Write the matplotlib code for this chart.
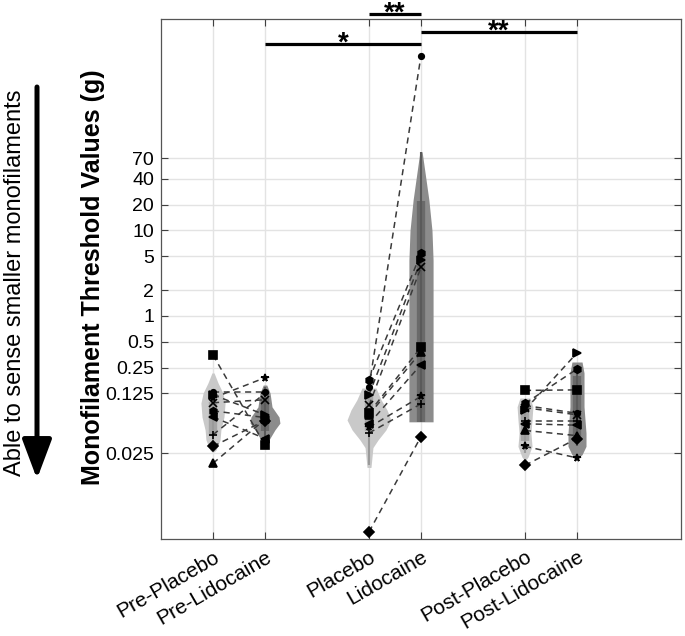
import numpy as np
import matplotlib
matplotlib.use('Agg')
import matplotlib.pyplot as plt

plt.rcParams['font.family'] = ['Liberation Sans', 'DejaVu Sans']

# groups and their tick labels
groups = ['Pre-Placebo', 'Pre-Lidocaine', 'Placebo', 'Lidocaine', 'Post-Placebo', 'Post-Lidocaine']
xpos = [1, 2, 4, 5, 7, 8]

# one marker per subject
markers = ['o', 'h', '>', 'x', 's', '^', '<', '*', '+', 'D']

# monofilament thresholds (g) per subject, same order as markers
pre_placebo = [0.13, 0.078, 0.12, 0.097, 0.35, 0.019, 0.066, 0.11, 0.041, 0.030]
pre_lidocaine = [0.13, 0.065, 0.07, 0.105, 0.031, 0.062, 0.037, 0.19, 0.125, 0.060]
placebo = [0.15, 0.18, 0.12, 0.09, 0.074, 0.07, 0.055, 0.05, 0.043, 0.003]
lidocaine = [1100, 5.4, 4.5, 3.7, 0.43, 0.38, 0.27, 0.115, 0.094, 0.039]
post_placebo = [0.09, 0.095, 0.08, 0.085, 0.135, 0.046, 0.055, 0.030, 0.06, 0.018]
post_lidocaine = [0.073, 0.24, 0.37, 0.07, 0.137, 0.04, 0.053, 0.022, 0.06, 0.037]
values = [pre_placebo, pre_lidocaine, placebo, lidocaine, post_placebo, post_lidocaine]

# violin outlines: levels (g) and relative density
vio_levels = [
    [0.216, 0.165, 0.126, 0.096, 0.066, 0.0466, 0.0356, 0.0272, 0.0259],
    [0.156, 0.126, 0.0867, 0.066, 0.056, 0.0466, 0.0356, 0.033],
    [0.144, 0.105, 0.08, 0.061, 0.0466, 0.0356, 0.029, 0.017],
    [83, 39, 22.6, 10, 4.5, 1.5, 0.4, 0.105, 0.058],
    [0.11, 0.087, 0.061, 0.043, 0.03, 0.0225, 0.021],
    [0.29, 0.216, 0.087, 0.043, 0.03, 0.024, 0.0225],
]
vio_density = [
    [0.05, 0.23, 0.45, 0.55, 0.5, 0.36, 0.32, 0.14, 0.05],
    [0.08, 0.23, 0.32, 0.64, 0.68, 0.45, 0.18, 0.05],
    [0.32, 0.55, 0.82, 1.0, 0.77, 0.41, 0.18, 0.09],
    [0.05, 0.23, 0.36, 0.5, 0.55, 0.55, 0.55, 0.55, 0.55],
    [0.23, 0.36, 0.32, 0.27, 0.32, 0.14, 0.05],
    [0.23, 0.32, 0.32, 0.41, 0.41, 0.23, 0.09],
]
box_hi = [0.10, 0.11, 0.12, 22, 0.085, 0.2]
box_lo = [0.04, 0.045, 0.045, 0.058, 0.035, 0.04]
whisk_hi = [0.13, 0.15, 0.15, 83, 0.10, 0.24]
whisk_lo = [0.028, 0.035, 0.018, 0.058, 0.025, 0.03]

# significance bars: (from, to, label, height in g)
sig = [(2, 5, '*', 1506), (4, 5, '**', 3370), (5, 8, '**', 2080)]

yticks = [0.025, 0.125, 0.25, 0.5, 1, 2, 5, 10, 20, 40, 70]
yticklabels = ['0.025', '0.125', '0.25', '0.5', '1', '2', '5', '10', '20', '40', '70']

fig = plt.figure(figsize=(6.85, 6.36), dpi=100)
ax = fig.add_axes([161 / 685, 1 - 539 / 636, 520 / 685, 520 / 636])
ax.set_yscale('log')

half = 22 / 52.1
for i, x in enumerate(xpos):
    lido = i % 2 == 1
    lv = np.array(vio_levels[i])
    w = np.array(vio_density[i]) * half
    ax.fill_betweenx(lv, x - w, x + w, color='#8c8c8c' if lido else '#c9c9c9',
                     lw=0, zorder=1)
    ax.plot([x, x], [whisk_lo[i], whisk_hi[i]], color='#5a5a5a' if lido else '#9a9a9a',
            lw=1.5, zorder=1.5, solid_capstyle='butt')
    ax.plot([x, x], [box_lo[i], box_hi[i]], color='#6a6a6a' if lido else '#a5a5a5',
            lw=6, zorder=1.4, solid_capstyle='butt')

# paired dashed lines and markers
for a, b in [(0, 1), (2, 3), (4, 5)]:
    for s, m in enumerate(markers):
        ax.plot([xpos[a], xpos[b]], [values[a][s], values[b][s]], ls=(0, (4, 3)),
                color='#3a3a3a', lw=1.1, zorder=2)
for i, x in enumerate(xpos):
    for s, m in enumerate(markers):
        ms = 4 if m == 'o' else 5.5
        ax.plot(x, values[i][s], marker=m, color='black', mfc='black', ms=ms,
                mew=1.2, ls='none', zorder=3)

for a, b, lab, h in sig:
    ax.plot([a, b], [h, h], color='black', lw=2.3, clip_on=False, zorder=4,
            solid_capstyle='butt')
    ax.annotate(lab, xy=((a + b) / 2, h), xytext=(0, -5), textcoords='offset points',
                ha='center', va='baseline', fontsize=20, fontweight='bold',
                annotation_clip=False)

ax.set_xlim(0, 10)
ax.set_ylim(0.00248, 2950)
ax.set_xticks(xpos)
ax.set_xticklabels(groups, rotation=30, ha='right', va='top', rotation_mode='anchor',
                   fontsize=15)
ax.set_yticks(yticks)
ax.set_yticklabels(yticklabels, fontsize=14)
ax.minorticks_off()
ax.tick_params(direction='in', length=5, top=True, right=True, color='#404040', pad=5)
ax.tick_params(axis='x', pad=6)
ax.grid(True, color='#e3e3e3', lw=1)
ax.set_axisbelow(True)
for sp in ax.spines.values():
    sp.set_color('#555555')
    sp.set_linewidth(0.9)

fig.text(93 / 685, 1 - 277 / 636, 'Monofilament Threshold Values (g)', rotation=90,
         ha='center', va='center', fontsize=18, fontweight='bold')
fig.text(15 / 685, 1 - 283 / 636, 'Able to sense smaller monofilaments', rotation=90,
         ha='center', va='center', fontsize=17)
ax.annotate('', xy=(37, 636 - 479), xycoords='figure pixels', xytext=(37, 636 - 87),
            textcoords='figure pixels',
            arrowprops=dict(arrowstyle='-|>,head_length=1.2,head_width=0.45',
                            mutation_scale=20, lw=3.6, color='black',
                            shrinkA=0, shrinkB=0))

fig.savefig('out.png', dpi=100)
